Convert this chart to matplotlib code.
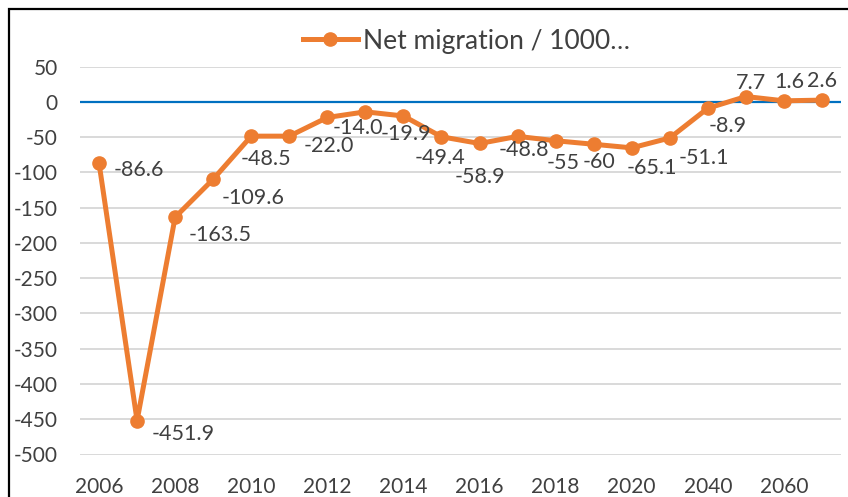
import matplotlib
matplotlib.use("Agg")
import matplotlib.pyplot as plt
from matplotlib.patches import Rectangle

# data
years = ["2006", "2007", "2008", "2009", "2010", "2011", "2012", "2013", "2014",
         "2015", "2016", "2017", "2018", "2019", "2020", "2030", "2040", "2050",
         "2060", "2070"]
net_migration = [-86.6, -451.9, -163.5, -109.6, -48.5, -48.5, -22.0, -14.0, -19.9,
                 -49.4, -58.9, -48.8, -55, -60, -65.1, -51.1, -8.9, 7.7, 1.6, 2.6]
# the 2010 and 2011 labels sit on top of each other in the original, one shows
value_labels = ["-86.6", "-451.9", "-163.5", "-109.6", "-48.5", "", "-22.0",
                "-14.0", "-19.9", "-49.4", "-58.9", "-48.8", "-55", "-60", "-65.1",
                "-51.1", "-8.9", "7.7", "1.6", "2.6"]
series_name = "Net migration / 1000\u2026"
y_ticks = [50, 0, -50, -100, -150, -200, -250, -300, -350, -400, -450, -500]

# label offsets in pixels (dx, dy) from the marker, dy positive = down
label_offsets = [(40, 7), (46, 13), (45, 18), (40, 19), (15, 23), (-23, 23),
                 (1, 29), (-7, 16), (3, 18), (-1, 21), (0, 34), (6, 14),
                 (8, 22), (5, 18), (20, 20), (34, 20), (20, 18), (5, -14),
                 (5, -19), (0, -19)]

orange = "#ED7D31"
text_col = "#404040"
plt.rcParams["font.family"] = ["Lato", "DejaVu Sans"]

fig = plt.figure(figsize=(8.48, 4.97), dpi=100)
ax = fig.add_axes([80 / 848, 1 - 454.5 / 497, 761 / 848, 387.8 / 497])

x = list(range(len(years)))
line, = ax.plot(x, net_migration, color=orange, lw=3.6, marker="o", ms=9.5,
                solid_joinstyle="round", zorder=3, label=series_name)

for xi, yi, lab, (dx, dy) in zip(x, net_migration, value_labels, label_offsets):
    if lab:
        ax.annotate(lab, (xi, yi), xytext=(dx, -dy), textcoords="offset pixels",
                    ha="center", va="center", fontsize=15.5, color=text_col, zorder=4)

ax.set_xlim(-0.5, len(years) - 0.5)
ax.set_ylim(-500, 50)
ax.set_yticks(y_ticks)
ax.set_yticklabels([str(v) for v in y_ticks])
ax.set_xticks(x[::2])
ax.set_xticklabels(years[::2])
ax.tick_params(length=0, labelsize=15, labelcolor=text_col)
ax.tick_params(axis="y", pad=16)
ax.tick_params(axis="x", pad=16)
ax.grid(axis="y", color="#D9D9D9", lw=1.4)
ax.set_axisbelow(True)
for s in ax.spines.values():
    s.set_visible(False)
ax.axhline(0, color="#0070C0", lw=1.6, zorder=2)

fig.legend(handles=[line], loc="center", bbox_to_anchor=(466.5 / 848, 1 - 41 / 497),
           frameon=False, fontsize=19, labelcolor=text_col, handlelength=2.1,
           handletextpad=0.2, borderpad=0, borderaxespad=0, numpoints=1)

# outer chart border (only left and top visible in the crop)
fig.patches.append(Rectangle((9 / 848, -0.1), 1.2, 1.1 - 9 / 497,
                             transform=fig.transFigure, fill=False,
                             edgecolor="black", lw=1.6))

fig.savefig("out.png", dpi=100)
